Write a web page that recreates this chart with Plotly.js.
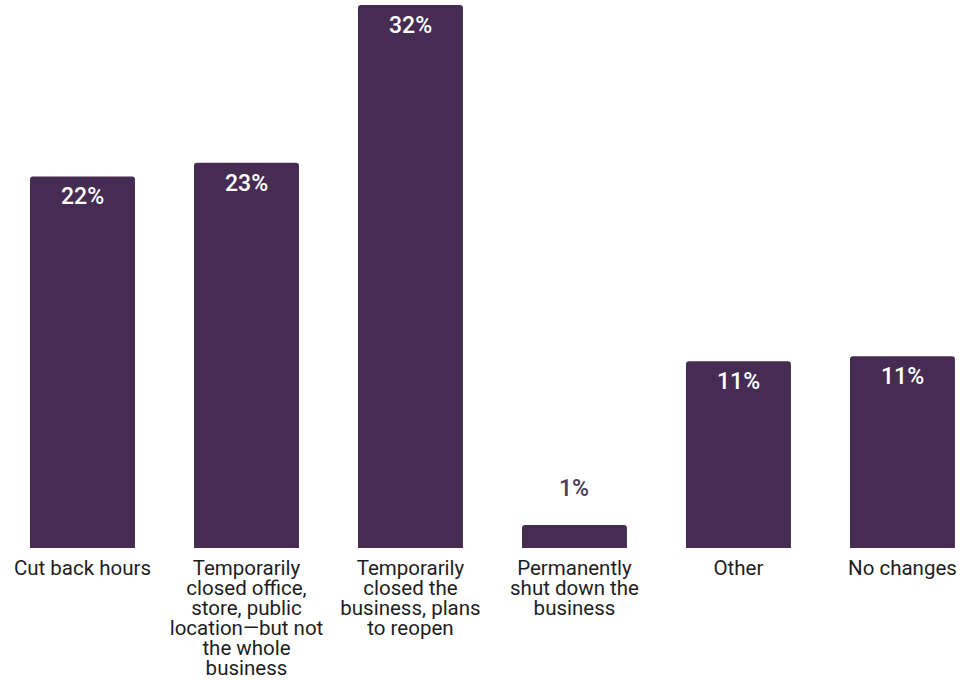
<!DOCTYPE html>
<html>
<head>
<meta charset="utf-8">
<script src="https://cdn.plot.ly/plotly-3.0.1.min.js"></script>
<style>
html, body { margin: 0; padding: 0; background: #ffffff; }
#chart { width: 972px; height: 680px; }
</style>
</head>
<body>
<div id="chart"></div>
<script>
var categories = [
  "Cut back hours",
  "Temporarily<br>closed office,<br>store, public<br>location\u2014but not<br>the whole<br>business",
  "Temporarily<br>closed the<br>business, plans<br>to reopen",
  "Permanently<br>shut down the<br>business",
  "Other",
  "No changes"
];
var values = [21.9, 22.7, 32, 1.35, 11.0, 11.3];

var barColor = "#462c52";
var outsideLabelColor = "#4d3b5a";

var trace = {
  type: "bar",
  x: categories,
  y: values,
  marker: { color: barColor, cornerradius: 3 },
  hoverinfo: "none"
};

var annotations = values.map(function (v, i) {
  var inside = v > 5;
  return {
    x: categories[i],
    y: v,
    xref: "x",
    yref: "y",
    text: Math.round(v) + "%",
    showarrow: false,
    yanchor: "middle",
    yshift: inside ? -20.5 : 37,
    font: { family: "Roboto, sans-serif", size: 23, weight: 500, color: inside ? "#ffffff" : outsideLabelColor }
  };
});

var layout = {
  width: 972,
  height: 680,
  margin: { l: 0, r: 0, t: 0, b: 132, pad: 0 },
  paper_bgcolor: "#ffffff",
  plot_bgcolor: "#ffffff",
  bargap: 0.36,
  showlegend: false,
  xaxis: {
    type: "category",
    range: [-0.503, 5.424],
    showgrid: false,
    zeroline: false,
    showline: false,
    ticks: "",
    tickangle: 0,
    ticklabelstandoff: 5,
    tickfont: { family: "Roboto, sans-serif", size: 20.5, color: "#1e1e1e" },
    fixedrange: true
  },
  yaxis: {
    range: [0, 32.3],
    visible: false,
    showgrid: false,
    zeroline: false,
    fixedrange: true
  },
  annotations: annotations
};

var gd = document.getElementById("chart");
Plotly.newPlot(gd, [trace], layout, { staticPlot: true, displayModeBar: false }).then(function () {
  gd.querySelectorAll(".xtick text tspan.line").forEach(function (t) {
    var dy = t.getAttribute("dy");
    if (dy && /em$/.test(dy)) {
      t.setAttribute("dy", (parseFloat(dy) / 1.3 * (20 / 20.5)) + "em");
    }
  });
});
</script>
</body>
</html>
